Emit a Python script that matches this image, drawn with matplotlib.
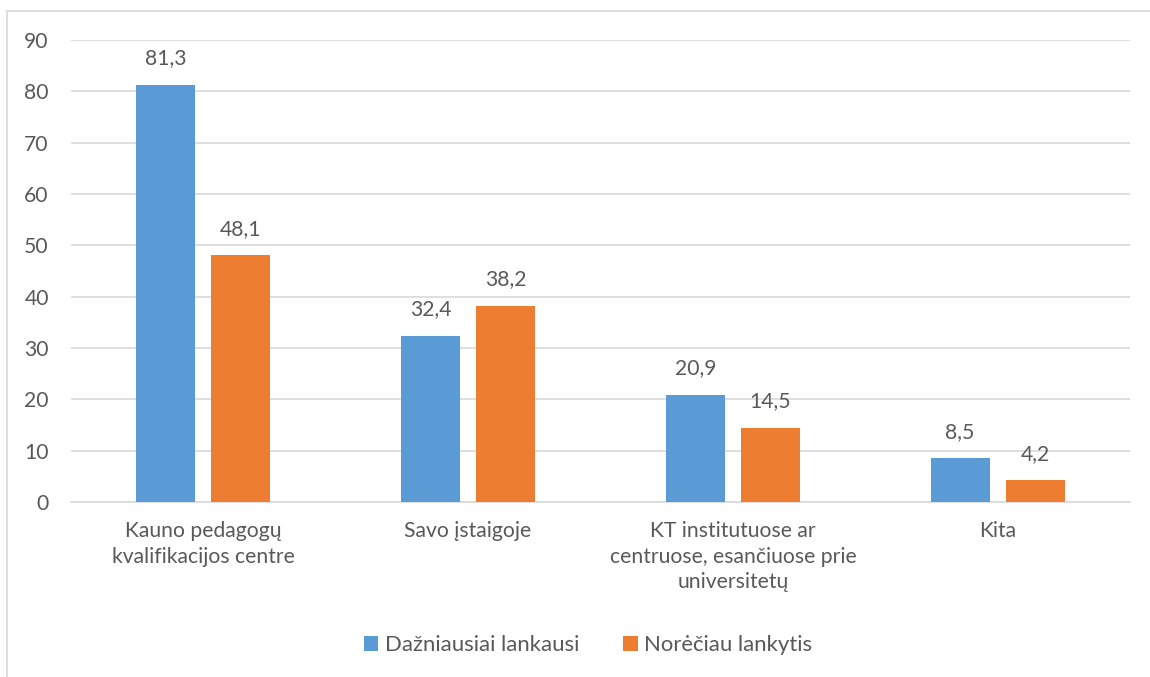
import matplotlib.pyplot as plt
import numpy as np
from matplotlib.patches import Rectangle

categories = ['Kauno pedagogų\nkvalifikacijos centre', 'Savo įstaigoje',
              'KT institutuose ar\ncentruose, esančiuose prie\nuniversitetų', 'Kita']
dazniausiai = [81.3, 32.4, 20.9, 8.5]
noreciau = [48.1, 38.2, 14.5, 4.2]
series_names = ['Dažniausiai lankausi', 'Norėčiau lankytis']

plt.rcParams['font.family'] = ['Lato', 'DejaVu Sans']
text_color = '#595959'
blue = '#5b9bd5'
orange = '#ed7d31'
fs = 15.2

fig = plt.figure(figsize=(11.5, 6.77), dpi=100)
fig.patches.append(Rectangle((7 / 1150, -0.1), 1.2, 1.1 - 11 / 677, transform=fig.transFigure,
                             fill=False, edgecolor='#d9d9d9', linewidth=1.2))
ax = fig.add_axes([71 / 1150, 1 - 502 / 677, (1130 - 71) / 1150, (502 - 40) / 677])

x = np.arange(len(categories))
w = 0.223
off = 0.142
b1 = ax.bar(x - off, dazniausiai, w, color=blue, label=series_names[0], zorder=3)
b2 = ax.bar(x + off, noreciau, w, color=orange, label=series_names[1], zorder=3)

for bars, vals in ((b1, dazniausiai), (b2, noreciau)):
    for r, v in zip(bars, vals):
        ax.text(r.get_x() + r.get_width() / 2, v + 3.2, f'{v:.1f}'.replace('.', ','),
                ha='center', va='bottom', fontsize=fs, color=text_color)

ax.set_xlim(-0.5, len(categories) - 0.5)
ax.set_ylim(0, 90)
ax.set_yticks(range(0, 91, 10))
ax.yaxis.grid(True, color='#d9d9d9', linewidth=1.2, zorder=0)
for s in ['top', 'right', 'left']:
    ax.spines[s].set_visible(False)
ax.spines['bottom'].set_color('#d9d9d9')
ax.spines['bottom'].set_linewidth(1.2)
ax.tick_params(axis='both', length=0, labelsize=fs, labelcolor=text_color)
ax.tick_params(axis='y', pad=16)
ax.tick_params(axis='x', pad=14)
ax.set_xticks(x)
ax.set_xticklabels(categories, linespacing=1.32)

fig.legend(loc='center', bbox_to_anchor=(588 / 1150, 1 - 645 / 677), ncol=2, frameon=False,
           handlelength=0.65, handleheight=0.65, handletextpad=0.3, columnspacing=2.0,
           fontsize=15.9, labelcolor=text_color)

fig.savefig('out.png')
